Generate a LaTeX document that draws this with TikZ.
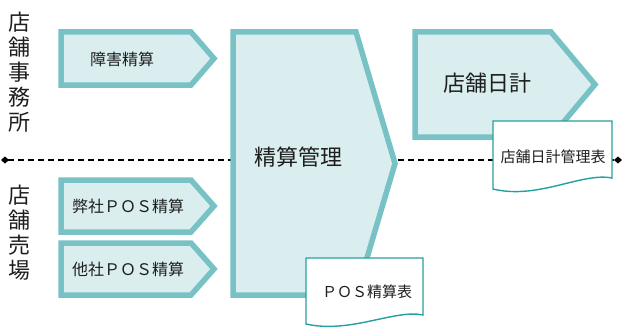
\documentclass[tikz,border=0pt]{standalone}
\usepackage{fontspec}
\newfontfamily\jp{Noto Sans CJK JP}
\usetikzlibrary{arrows.meta}
\definecolor{pborder}{HTML}{78C2C5}
\definecolor{pfill}{HTML}{DAEEF0}
\definecolor{dborder}{HTML}{24A09E}
\definecolor{txt}{HTML}{1E1E1E}
\tikzset{
  pent/.style={draw=pborder, fill=pfill, line width=5.5pt, line join=miter},
  docshape/.style={draw=dborder, fill=white, line width=1.4pt},
  lbl/.style={text=txt, inner sep=0pt, font=\jp\fontsize{16}{19}\selectfont},
  biglbl/.style={text=txt, inner sep=0pt, font=\jp\fontsize{22}{26}\selectfont},
  doclbl/.style={text=txt, inner sep=0pt, font=\jp\fontsize{15}{18}\selectfont},
  vlbl/.style={text=txt, inner sep=0pt, align=center, font=\jp\fontsize{22}{25}\selectfont},
  sep/.style={line width=1.2pt, dash pattern=on 6pt off 4pt, {Diamond[length=8pt,width=7pt]}-{Diamond[length=8pt,width=7pt]}}
}
\begin{document}
\begin{tikzpicture}[x=1pt,y=-1pt]
\useasboundingbox (0,0) rectangle (623,329);
% separator
\coordinate (L) at (1,160);
\coordinate (R) at (622,160);
\draw[sep] (L) -- (R);
% vertical side labels
\node[vlbl] (office) at (20,72.5) {店\\舗\\事\\務\\所};
\node[vlbl] (floor) at (20,232.5) {店\\舗\\売\\場};
% small process pentagons
\draw[pent] (61,32) -- (191,32) -- (214,58.5) -- (191,85) -- (61,85) -- cycle;
\node[lbl] (p1) at (122,59) {障害精算};
\draw[pent] (61,180) -- (191,180) -- (214,206) -- (191,232) -- (61,232) -- cycle;
\node[lbl] (p2) at (128,206) {弊社ＰＯＳ精算};
\draw[pent] (61,243) -- (191,243) -- (214,269) -- (191,295) -- (61,295) -- cycle;
\node[lbl] (p3) at (128,269) {他社ＰＯＳ精算};
% main pentagon
\draw[pent] (233,32) -- (356,32) -- (395,163.5) -- (356,295) -- (233,295) -- cycle;
\node[biglbl] (main) at (298,157) {精算管理};
% store daily pentagon
\draw[pent] (415,32) -- (551,32) -- (595,84.5) -- (551,137) -- (415,137) -- cycle;
\node[biglbl] (daily) at (487,83) {店舗日計};
% documents
\draw[docshape] (306,258) -- (423,258) -- (423,315)
  .. controls (395,309) and (350,334) .. (306,324) -- cycle;
\node[doclbl] (d1) at (367,292) {ＰＯＳ精算表};
\draw[docshape] (493,121) -- (612,121) -- (612,178)
  .. controls (582,172) and (538,200) .. (493,189) -- cycle;
\node[doclbl] (d2) at (553,157) {店舗日計管理表};
\end{tikzpicture}
\end{document}
